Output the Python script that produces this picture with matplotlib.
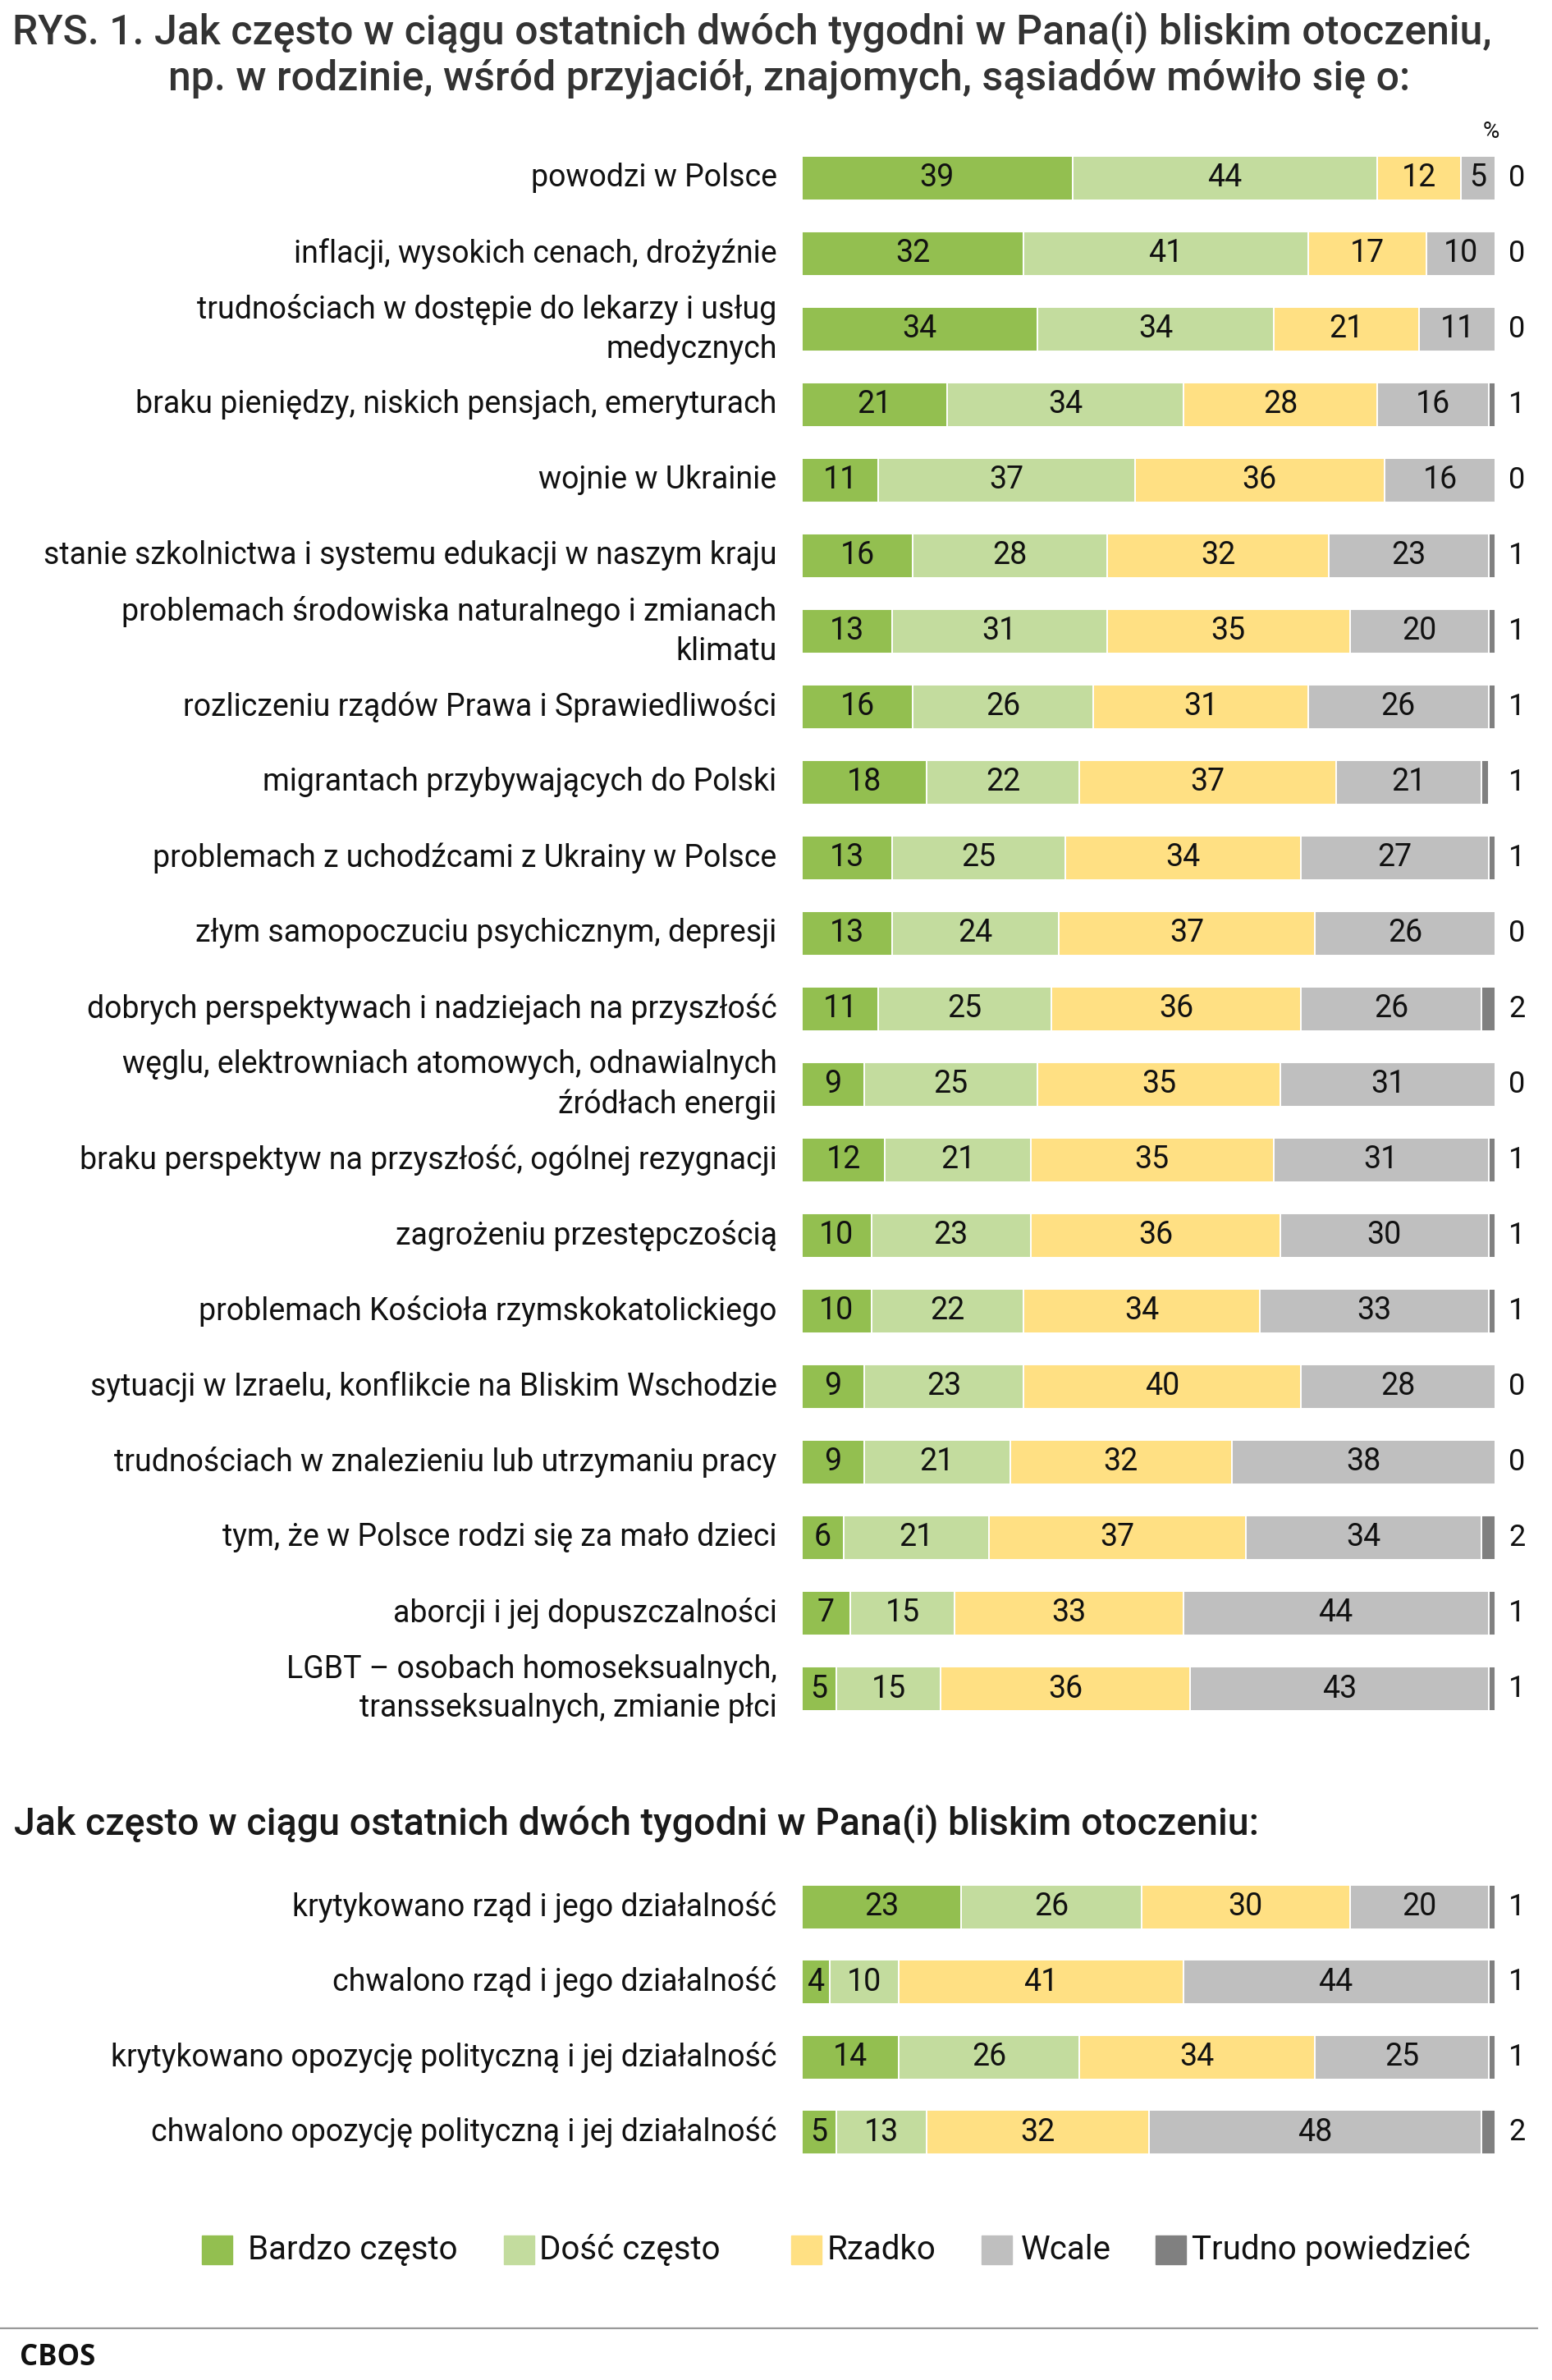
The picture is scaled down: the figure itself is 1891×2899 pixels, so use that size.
"""
CBOS RYS. 1 - stacked bars: how often topics came up in conversation
(last two weeks), plus the government / opposition block.
Output: out.png
"""
import matplotlib
matplotlib.use("Agg")
import matplotlib.pyplot as plt
from matplotlib.patches import Rectangle
import numpy as np

plt.rcParams["font.family"] = ["Roboto", "DejaVu Sans"]

W, H = 1891, 2899

SERIES = ["Bardzo często", "Dość często", "Rzadko", "Wcale", "Trudno powiedzieć"]
COLORS = ["#93bf50", "#c3dc9e", "#ffe083", "#bfbfbf", "#808080"]

topics = [
    "powodzi w Polsce",
    "inflacji, wysokich cenach, drożyźnie",
    "trudnościach w dostępie do lekarzy i usług\nmedycznych",
    "braku pieniędzy, niskich pensjach, emeryturach",
    "wojnie w Ukrainie",
    "stanie szkolnictwa i systemu edukacji w naszym kraju",
    "problemach środowiska naturalnego i zmianach\nklimatu",
    "rozliczeniu rządów Prawa i Sprawiedliwości",
    "migrantach przybywających do Polski",
    "problemach z uchodźcami z Ukrainy w Polsce",
    "złym samopoczuciu psychicznym, depresji",
    "dobrych perspektywach i nadziejach na przyszłość",
    "węglu, elektrowniach atomowych, odnawialnych\nźródłach energii",
    "braku perspektyw na przyszłość, ogólnej rezygnacji",
    "zagrożeniu przestępczością",
    "problemach Kościoła rzymskokatolickiego",
    "sytuacji w Izraelu, konflikcie na Bliskim Wschodzie",
    "trudnościach w znalezieniu lub utrzymaniu pracy",
    "tym, że w Polsce rodzi się za mało dzieci",
    "aborcji i jej dopuszczalności",
    "LGBT – osobach homoseksualnych,\ntransseksualnych, zmianie płci",
]
bardzo = [39, 32, 34, 21, 11, 16, 13, 16, 18, 13, 13, 11, 9, 12, 10, 10, 9, 9, 6, 7, 5]
dosc = [44, 41, 34, 34, 37, 28, 31, 26, 22, 25, 24, 25, 25, 21, 23, 22, 23, 21, 21, 15, 15]
rzadko = [12, 17, 21, 28, 36, 32, 35, 31, 37, 34, 37, 36, 35, 35, 36, 34, 40, 32, 37, 33, 36]
wcale = [5, 10, 11, 16, 16, 23, 20, 26, 21, 27, 26, 26, 31, 31, 30, 33, 28, 38, 34, 44, 43]
trudno = [0, 0, 0, 1, 0, 1, 1, 1, 1, 1, 0, 2, 0, 1, 1, 1, 0, 0, 2, 1, 1]

gov_items = [
    "krytykowano rząd i jego działalność",
    "chwalono rząd i jego działalność",
    "krytykowano opozycję polityczną i jej działalność",
    "chwalono opozycję polityczną i jej działalność",
]
gov_bardzo = [23, 4, 14, 5]
gov_dosc = [26, 10, 26, 13]
gov_rzadko = [30, 41, 34, 32]
gov_wcale = [20, 44, 25, 48]
gov_trudno = [1, 1, 1, 2]


def px_axes(fig, x0, y0, x1, y1):
    # pixel box (top-left origin) -> figure axes
    return fig.add_axes([x0 / W, 1 - y1 / H, (x1 - x0) / W, (y1 - y0) / H])


def draw_block(ax, labels, cols):
    n = len(labels)
    y = np.arange(n)
    left = np.zeros(n)
    for i, vals in enumerate(cols):
        vals = np.array(vals, dtype=float)
        ax.barh(y, vals, left=left, height=0.59, color=COLORS[i],
                edgecolor="white", linewidth=1.4)
        if i < 4:
            for yy, l, v in zip(y, left, vals):
                if v > 0:
                    ax.text(l + v / 2, yy, f"{int(v)}", ha="center", va="center",
                            fontsize=27, color="#111111")
        left += vals
    for yy, v in zip(y, cols[4]):
        ax.text(103.1, yy, f"{v}", ha="center", va="center", fontsize=26,
                color="#111111")
    for yy, lab in zip(y, labels):
        ax.text(-3.6, yy, lab, ha="right", va="center", fontsize=27,
                color="#111111", linespacing=1.36)
    ax.set_xlim(0, 100)
    ax.set_ylim(n - 0.5, -0.5)
    ax.axis("off")


fig = plt.figure(figsize=(W / 100, H / 100), dpi=100)

# main title
fig.text(15 / W, 1 - 40 / H,
         "RYS. 1. Jak często w ciągu ostatnich dwóch tygodni w Pana(i) bliskim otoczeniu,",
         ha="left", va="center", fontsize=36, fontweight="medium", color="#333333")
fig.text(962 / W, 1 - 96 / H,
         "np. w rodzinie, wśród przyjaciół, znajomych, sąsiadów mówiło się o:",
         ha="center", va="center", fontsize=36, fontweight="medium", color="#333333")
fig.text(1817 / W, 1 - 160 / H, "%", ha="center", va="center", fontsize=20,
         color="#111111")

ax1 = px_axes(fig, 977, 171, 1822, 2103)
draw_block(ax1, topics, [bardzo, dosc, rzadko, wcale, trudno])

fig.text(17 / W, 1 - 2222 / H,
         "Jak często w ciągu ostatnich dwóch tygodni w Pana(i) bliskim otoczeniu:",
         ha="left", va="center", fontsize=33.5, fontweight="medium", color="#1a1a1a")

ax2 = px_axes(fig, 977, 2277, 1822, 2643)
draw_block(ax2, gov_items, [gov_bardzo, gov_dosc, gov_rzadko, gov_wcale, gov_trudno])

# legend, laid out by hand like the original
leg_sq = [246, 614, 964, 1196, 1408]
leg_tx = [302, 657, 1008, 1244, 1452]
for name, col, sx, tx in zip(SERIES, COLORS, leg_sq, leg_tx):
    fig.patches.append(Rectangle((sx / W, 1 - 2758 / H), 37 / W, 35 / H,
                                 transform=fig.transFigure, color=col))
    fig.text(tx / W, 1 - 2741 / H, name, ha="left", va="center", fontsize=29,
             color="#111111")

fig.add_artist(plt.Line2D([0, 1873 / W], [1 - 2836 / H] * 2,
                          transform=fig.transFigure, color="#999999", lw=1.6))
fig.text(24 / W, 1 - 2872 / H, "CBOS", ha="left", va="center", fontsize=25,
         fontweight="bold", family=["Open Sans", "DejaVu Sans"], color="#111111")

fig.savefig("out.png", dpi=100)
